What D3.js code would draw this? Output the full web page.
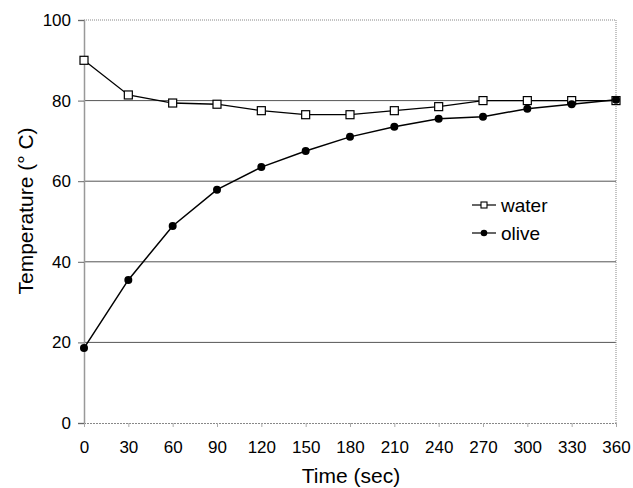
<!DOCTYPE html>
<html><head><meta charset="utf-8">
<script src="https://cdn.jsdelivr.net/npm/d3@7"></script>
<style>body{margin:0;background:#fff}svg{display:block}text{font-family:Arial,"Liberation Sans",sans-serif;fill:#000}</style>
</head><body><svg id="c" width="633" height="488"></svg>
<script>
const times = [0,30,60,90,120,150,180,210,240,270,300,330,360];
const water = [90,81.4,79.4,79.1,77.5,76.5,76.5,77.5,78.5,80,80,80,80];
const olive = [18.6,35.5,48.9,57.9,63.5,67.5,71,73.5,75.5,76,78,79.1,80.2];
const yTicks = [0,20,40,60,80,100];
const xTicks = times;

const svg = d3.select("#c");
const L=84,R=616,T=20,B=423;
const x = d3.scaleLinear().domain([0,360]).range([L,R]);
const y = d3.scaleLinear().domain([0,100]).range([B,T]);

// gridlines
svg.append("g").selectAll("line").data([20,40,60,80]).join("line")
  .attr("x1",L).attr("x2",R).attr("y1",d=>y(d)).attr("y2",d=>y(d))
  .attr("stroke","#555").attr("stroke-width",1);
// frame top/right dotted
svg.append("line").attr("x1",L).attr("x2",R).attr("y1",T).attr("y2",T).attr("stroke","#888").attr("stroke-dasharray","1,1");
svg.append("line").attr("x1",R).attr("x2",R).attr("y1",T).attr("y2",B).attr("stroke","#888").attr("stroke-dasharray","1,1");

// axes
const yAxis = d3.axisLeft(y).tickValues(yTicks).tickSize(6).tickPadding(7);
const gy = svg.append("g").attr("transform",`translate(${L},0)`).call(yAxis);
gy.select(".domain").attr("stroke","#999").attr("stroke-width",1.5);
gy.selectAll(".tick line").attr("stroke","#666");
gy.selectAll("text").style("font-size","17px");
const xAxis = d3.axisBottom(x).tickValues(xTicks).tickSize(4).tickPadding(14);
const gx = svg.append("g").attr("transform",`translate(0,${B})`).call(xAxis);
gx.select(".domain").attr("stroke","#888").attr("stroke-dasharray","2,1");
gx.selectAll(".tick line").attr("stroke","#aaa");
gx.selectAll("text").style("font-size","17px");

const line = d3.line().x((d,i)=>x(times[i])).y(d=>y(d));
svg.append("path").datum(water).attr("d",line).attr("fill","none").attr("stroke","#000").attr("stroke-width",1.3);
svg.append("path").datum(olive).attr("d",line).attr("fill","none").attr("stroke","#000").attr("stroke-width",1.5);
svg.append("g").selectAll("rect").data(water).join("rect")
  .attr("x",(d,i)=>x(times[i])-4).attr("y",d=>y(d)-4).attr("width",8).attr("height",8)
  .attr("fill","#fff").attr("stroke","#000").attr("stroke-width",1.2);
svg.append("g").selectAll("circle").data(olive).join("circle")
  .attr("cx",(d,i)=>x(times[i])).attr("cy",d=>y(d)).attr("r",4).attr("fill","#000");

// legend
const lg = svg.append("g");
lg.append("line").attr("x1",472).attr("x2",496).attr("y1",205).attr("y2",205).attr("stroke","#000").attr("stroke-width",1.2);
lg.append("rect").attr("x",481).attr("y",202).attr("width",6).attr("height",6).attr("fill","#fff").attr("stroke","#000").attr("stroke-width",1.1);
lg.append("text").attr("x",501).attr("y",211.5).style("font-size","19px").text("water");
lg.append("line").attr("x1",472).attr("x2",496).attr("y1",233).attr("y2",233).attr("stroke","#000").attr("stroke-width",1.2);
lg.append("circle").attr("cx",484).attr("cy",233).attr("r",3.3).attr("fill","#000");
lg.append("text").attr("x",501).attr("y",239.5).style("font-size","19px").text("olive");

// titles
svg.append("text").attr("x",351).attr("y",483).attr("text-anchor","middle").style("font-size","21px").text("Time (sec)");
svg.append("text").attr("transform","translate(33,211) rotate(-90)").attr("text-anchor","middle").style("font-size","21px").text("Temperature (° C)");
</script></body></html>
